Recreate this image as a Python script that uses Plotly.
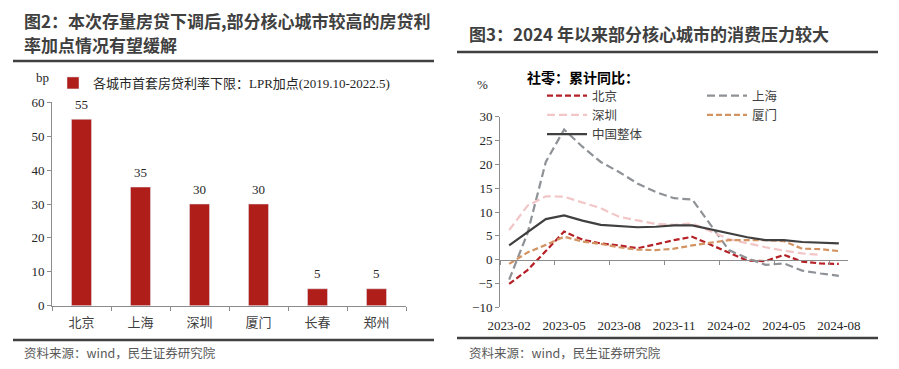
import plotly.graph_objects as go

# ---------------- data ----------------
cities = ["北京", "上海", "深圳", "厦门", "长春", "郑州"]
lpr_spread_bp = [55, 35, 30, 30, 5, 5]
bar_name = "各城市首套房贷利率下限：LPR加点(2019.10-2022.5)"

months = ["2023-02", "2023-03", "2023-04", "2023-05", "2023-06", "2023-07",
          "2023-08", "2023-09", "2023-10", "2023-11", "2023-12", "2024-01",
          "2024-02", "2024-03", "2024-04", "2024-05", "2024-06", "2024-07",
          "2024-08"]
beijing = [-5.1, -2.2, 1.8, 5.9, 4.2, 3.4, 3.0, 2.4, 3.2, 4.1, 4.8, None,
           1.5, -0.2, -0.3, 1.0, -0.4, -0.8, -0.9]
shanghai = [-4.2, 5.5, 20.5, 27.3, 23.7, 20.5, 18.4, 16.0, 14.2, 12.9, 12.6, None,
            2.0, 0.3, -1.1, -0.8, -2.3, -2.9, -3.4]
shenzhen = [6.2, 11.3, 13.3, 13.2, 12.0, 10.8, 9.0, 8.2, 7.5, 7.3, 7.6, None,
            4.3, 3.4, 2.6, 1.9, 1.3, 1.0, None]
xiamen = [-0.9, 1.5, 3.1, 4.8, 3.8, 3.3, 2.6, 2.1, 2.0, 2.3, 3.0, None,
          4.1, 4.1, 4.1, 3.9, 2.3, 2.2, 1.8]
china = [3.0, 5.8, 8.5, 9.3, 8.2, 7.3, 7.0, 6.8, 6.9, 7.2, 7.2, None,
         5.5, 4.7, 4.1, 4.1, 3.7, 3.5, 3.4]

# ---------------- styling ----------------
VIEW_W, VIEW_H = 899, 369
PAGE_PAD = 8                       # default body margin of the html page
W, H = VIEW_W - 2 * PAGE_PAD, VIEW_H - 2 * PAGE_PAD
SERIF = "Liberation Serif, Times New Roman, serif"
CJK = "Noto Sans CJK SC, sans-serif"
MIX = "Liberation Serif, Noto Sans CJK SC, serif"
AXIS = "#8c8c8c"
TXT = "#262626"
DARK = "#404040"
BAR = "#B01E1A"


def fx(px):
    return (px - PAGE_PAD) / W


def fy(py):
    return 1 - (py - PAGE_PAD) / H


fig = go.Figure()

fig.add_trace(go.Bar(
    x=cities, y=lpr_spread_bp, name=bar_name, marker_color=BAR,
    xaxis="x", yaxis="y", legend="legend", showlegend=True))

series = [
    ("北京", beijing, "#B52026", "6px,3px", "legend2"),
    ("上海", shanghai, "#8E9296", "8px,4px", "legend3"),
    ("深圳", shenzhen, "#F2C6C6", "8px,4px", "legend2"),
    ("厦门", xiamen, "#D39463", "6px,3px", "legend3"),
    ("中国整体", china, "#404040", "solid", "legend2"),
]
for name, vals, col, dash, lg in series:
    fig.add_trace(go.Scatter(
        x=months, y=vals, name=name, mode="lines", connectgaps=True,
        line=dict(color=col, width=2.2, dash=dash),
        xaxis="x2", yaxis="y2", legend=lg))

# right-chart y domain and zero-line position
y2_dom = [fy(307.3), fy(116.7)]
y2_rng = [-10, 30]
zero_pos = y2_dom[0] + (0 - y2_rng[0]) / (y2_rng[1] - y2_rng[0]) * (y2_dom[1] - y2_dom[0])

annotations = []
for c, v in zip(cities, lpr_spread_bp):
    annotations.append(dict(x=c, y=v, xref="x", yref="y", text=str(v), showarrow=False,
                            yshift=15, font=dict(family=SERIF, size=13, color=TXT)))


def label(x, y, text, family, size, color, xanchor="left"):
    return dict(x=fx(x), y=fy(y), xref="paper", yref="paper", xanchor=xanchor,
                yanchor="middle", showarrow=False, text=text,
                font=dict(family=family, size=size, color=color))


annotations += [
    label(22, 20, "<b>图2：本次存量房贷下调后,部分核心城市较高的房贷利</b>", CJK, 17, DARK),
    label(22, 44.5, "<b>率加点情况有望缓解</b>", CJK, 17, DARK),
    label(467, 33, "<b>图3：2024 年以来部分核心城市的消费压力较大</b>", CJK, 17, DARK),
    label(22, 352, "资料来源：wind，民生证券研究院", CJK, 12.5, "#595959"),
    label(467, 352, "资料来源：wind，民生证券研究院", CJK, 12.5, "#595959"),
    label(42, 77, "bp", SERIF, 13, TXT, "center"),
    label(483, 84, "%", SERIF, 13, TXT, "center"),
    label(525, 77, "<b>社零：累计同比：</b>", CJK, 14, "#000000"),
]


def rule(x0, x1, y):
    return dict(type="line", xref="paper", yref="paper", x0=fx(x0), x1=fx(x1),
                y0=fy(y), y1=fy(y), line=dict(color=DARK, width=2.5))


shapes = [rule(13, 434, 61), rule(13, 434, 340), rule(457, 878, 52), rule(457, 878, 338)]

fig.update_layout(
    width=W, height=H, margin=dict(l=0, r=0, t=0, b=0, autoexpand=False),
    paper_bgcolor="white", plot_bgcolor="rgba(0,0,0,0)",
    bargap=0.66,
    xaxis=dict(domain=[fx(52), fx(406)], anchor="y", type="category", range=[-0.5, 5.5],
               tickson="boundaries", ticks="outside", ticklen=4, tickcolor=AXIS,
               showline=True, linecolor=AXIS, linewidth=1, showgrid=False, automargin=False,
               tickangle=0,
               tickfont=dict(family=CJK, size=13, color=DARK), ticklabelstandoff=5),
    yaxis=dict(domain=[fy(305.7), fy(102.3)], anchor="x", range=[0, 60], dtick=10,
               ticks="outside", ticklen=4, tickcolor=AXIS, showline=True, linecolor=AXIS,
               linewidth=1, showgrid=False, zeroline=False, automargin=False,
               tickfont=dict(family=SERIF, size=13, color=TXT)),
    xaxis2=dict(domain=[fx(500), fx(848)], anchor="free", position=zero_pos,
                type="category", categoryorder="array", categoryarray=months,
                range=[-0.5, 18.5], tickmode="linear", tick0=0, dtick=3, tickangle=0,
                tickson="boundaries", ticks="outside", ticklen=4, tickcolor=AXIS,
                showline=True, linecolor=AXIS, linewidth=1, showgrid=False, automargin=False,
                tickfont=dict(family=SERIF, size=13, color=TXT), ticklabelstandoff=54),
    yaxis2=dict(domain=y2_dom, anchor="x2", range=y2_rng, dtick=5,
                ticks="outside", ticklen=4, tickcolor=AXIS, showline=True, linecolor=AXIS,
                linewidth=1, showgrid=False, zeroline=False, automargin=False,
                tickfont=dict(family=SERIF, size=13, color=TXT)),
    legend=dict(x=fx(53), y=fy(83), xanchor="left", yanchor="middle",
                bgcolor="rgba(0,0,0,0)", font=dict(family=MIX, size=13, color=TXT),
                itemwidth=30),
    legend2=dict(x=fx(542), y=fy(115), xanchor="left", yanchor="middle",
                 bgcolor="rgba(0,0,0,0)", font=dict(family=CJK, size=12.5, color=DARK),
                 itemwidth=40),
    legend3=dict(x=fx(702), y=fy(105.5), xanchor="left", yanchor="middle",
                 bgcolor="rgba(0,0,0,0)", font=dict(family=CJK, size=12.5, color=DARK),
                 itemwidth=40),
    annotations=annotations, shapes=shapes,
)

fig.write_html("out.html")
